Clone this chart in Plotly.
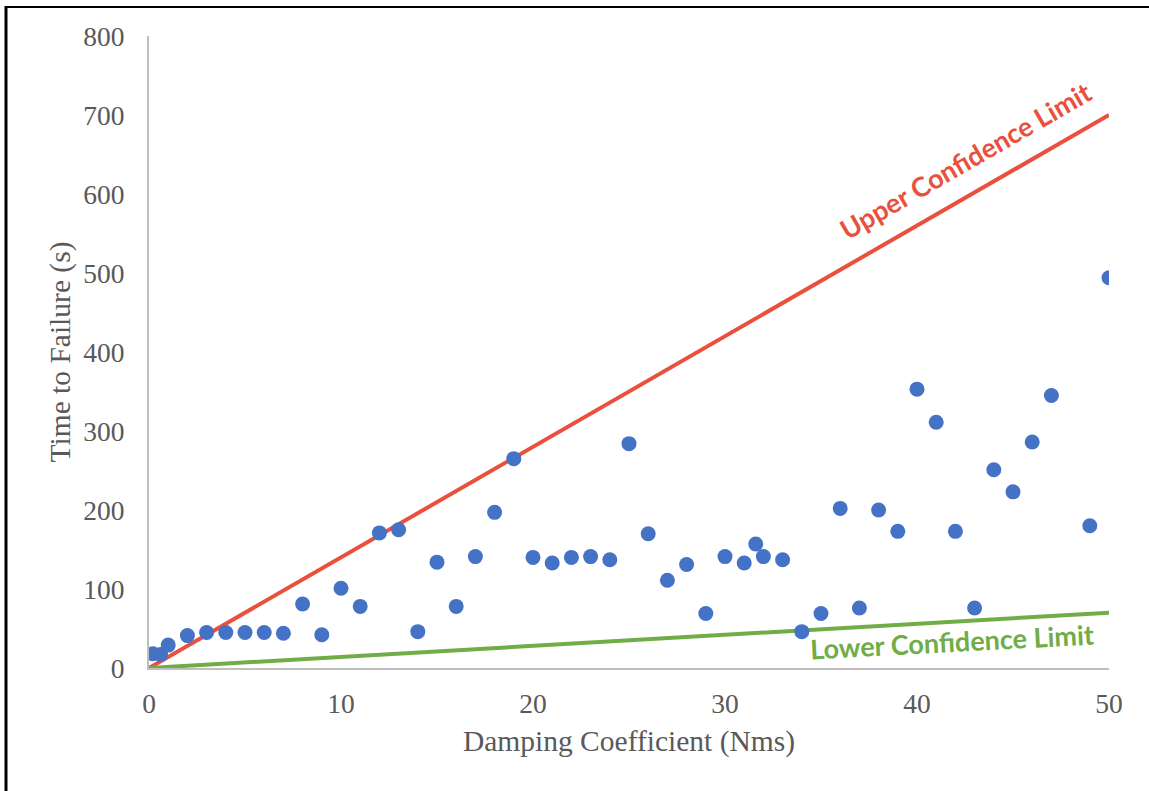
import plotly.graph_objects as go

# Measured damping coefficient (Nms) and time to failure (s)
damping = [0.2, 0.6, 1, 2, 3, 4, 5, 6, 7, 8, 9, 10, 11, 12, 13, 14, 15, 16, 17, 18,
           19, 20, 21, 22, 23, 24, 25, 26, 27, 28, 29, 30, 31, 31.6, 32, 33, 34, 35,
           36, 37, 38, 39, 40, 41, 42, 43, 44, 45, 46, 47, 49, 50]
time_to_failure = [18, 17, 29, 41, 45, 45, 45, 45, 44, 81, 42, 101, 78, 171, 175, 46,
                   134, 78, 141, 197, 265, 140, 133, 140, 141, 137, 284, 170, 111, 131,
                   69, 141, 133, 157, 141, 137, 46, 69, 202, 76, 200, 173, 353, 311, 173,
                   76, 251, 223, 286, 345, 180, 494]

# Confidence limit lines
limit_x = [0, 50]
upper_limit = [0, 700]
lower_limit = [0, 70]

x_ticks = [0, 10, 20, 30, 40, 50]
y_ticks = [0, 100, 200, 300, 400, 500, 600, 700, 800]

RED = "#E9503E"
GREEN = "#70AD47"
BLUE = "#4472C4"
GREY_TEXT = "#595959"
AXIS_GREY = "#BFBFBF"

fig = go.Figure()
fig.add_trace(go.Scatter(x=limit_x, y=upper_limit, mode="lines",
                         line=dict(color=RED, width=4), hoverinfo="skip"))
fig.add_trace(go.Scatter(x=limit_x, y=lower_limit, mode="lines",
                         line=dict(color=GREEN, width=4), hoverinfo="skip"))
fig.add_trace(go.Scatter(x=damping, y=time_to_failure, mode="markers",
                         marker=dict(color=BLUE, size=15, line=dict(width=0))))

tick_font = dict(family="Liberation Serif", size=27.5, color=GREY_TEXT)
title_font = dict(family="Liberation Serif", size=29.5, color=GREY_TEXT)

fig.update_xaxes(range=[0, 50], tickvals=x_ticks, showgrid=False, zeroline=False,
                 showline=True, linecolor=AXIS_GREY, linewidth=2,
                 ticks="", tickfont=tick_font, ticklabelstandoff=10,
                 title=dict(text="Damping Coefficient (Nms)", font=title_font, standoff=12))
fig.update_yaxes(range=[0, 800], tickvals=y_ticks, showgrid=False, zeroline=False,
                 showline=True, linecolor=AXIS_GREY, linewidth=2,
                 ticks="", tickfont=tick_font, ticklabelstandoff=17,
                 title=dict(text="Time to Failure (s)", font=title_font, standoff=4))

fig.add_annotation(x=42.5, y=643, text="Upper Confidence Limit", showarrow=False,
                   textangle=-30, xanchor="center", yanchor="middle",
                   font=dict(family="Lato", size=27, color=RED, weight="bold"))
fig.add_annotation(x=41.8, y=33, text="Lower Confidence Limit", showarrow=False,
                   textangle=-3, xanchor="center", yanchor="middle",
                   font=dict(family="Lato", size=27, color=GREEN, weight="bold"))

# Frame edges along the left and top of the figure
L, R, T, B = 149, 40, 36, 123
W, H = 1149, 791
pw, ph = W - L - R, H - T - B
def px_x(px):
    return (px - L) / pw
def px_y(py):
    return (H - B - py) / ph
fig.add_shape(type="line", xref="paper", yref="paper",
              x0=px_x(6), x1=px_x(6), y0=px_y(6), y1=px_y(H + 5),
              line=dict(color="black", width=3))
fig.add_shape(type="line", xref="paper", yref="paper",
              x0=px_x(5), x1=px_x(W + 5), y0=px_y(7), y1=px_y(7),
              line=dict(color="black", width=2))

fig.update_layout(width=W, height=H, margin=dict(l=L, r=R, t=T, b=B),
                  plot_bgcolor="white", paper_bgcolor="white", showlegend=False)

fig.write_html("out.html")
